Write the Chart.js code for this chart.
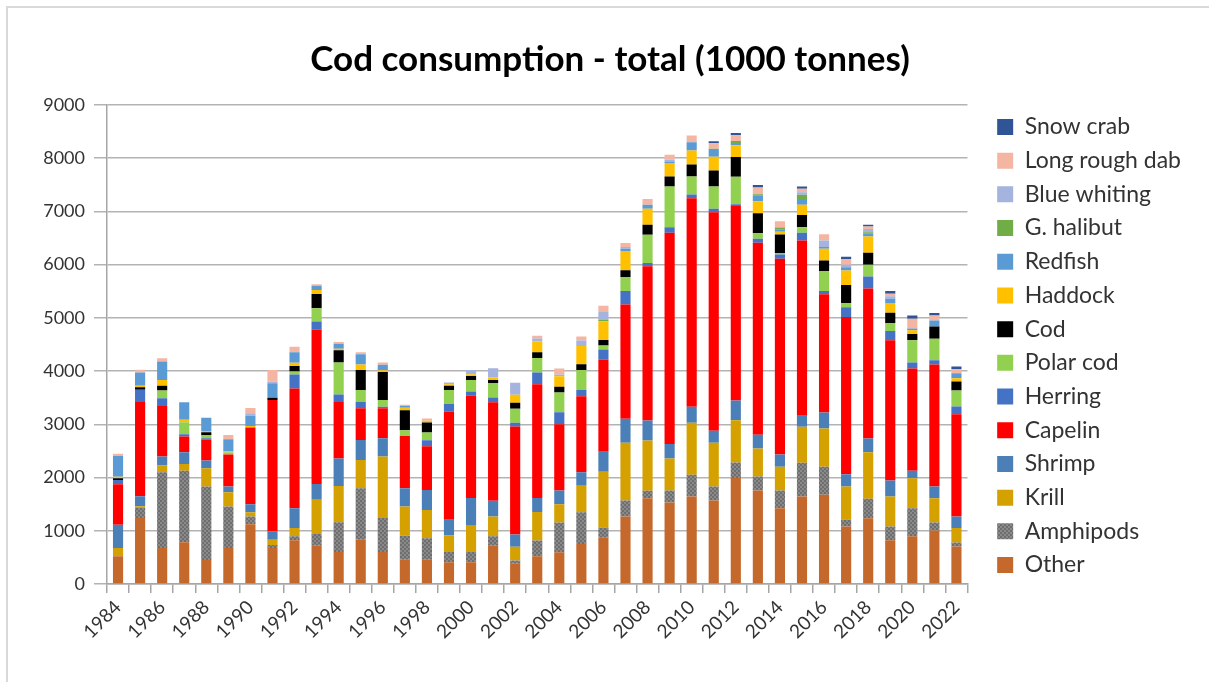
<!DOCTYPE html>
<html>
<head>
<meta charset="utf-8">
<script src="https://cdn.jsdelivr.net/npm/chart.js@4.4.0/dist/chart.umd.min.js"></script>
<style>
  html, body { margin: 0; padding: 0; background: #fff; }
  #frame { position: absolute; left: 6px; top: 6px; width: 1220px; height: 700px; border: 2px solid #d9d9d9; }
  #wrap { position: absolute; left: 0; top: 0; width: 1209px; height: 682px; }
</style>
</head>
<body>
<div id="frame"></div>
<div id="wrap"><canvas id="chart"></canvas></div>
<script>
// Cod consumption by prey, 1000 tonnes

const years = ["1984","1985","1986","1987","1988","1989","1990","1991","1992","1993",
  "1994","1995","1996","1997","1998","1999","2000","2001","2002","2003",
  "2004","2005","2006","2007","2008","2009","2010","2011","2012","2013",
  "2014","2015","2016","2017","2018","2019","2020","2021","2022"];

const other = [520,1240,675,785,450,675,1125,675,820,720,600,830,600,455,455,410,410,720,380,520,
  595,750,870,1270,1610,1530,1645,1570,1990,1755,1425,1645,1675,1080,1235,820,895,1005,705];
const amphipods = [0,190,1425,1345,1380,780,145,60,75,220,560,970,640,450,405,190,190,175,60,295,
  560,600,190,300,140,225,410,260,295,265,330,635,530,125,365,260,530,150,75];
const krill = [155,30,125,125,345,270,80,95,155,645,680,530,1155,550,530,310,495,375,260,540,
  345,495,1050,1085,945,605,975,825,790,525,450,675,715,625,875,565,560,455,270];
const shrimp = [440,190,170,220,145,105,150,155,375,295,520,375,345,345,375,295,520,295,230,260,
  255,255,375,450,375,270,300,225,375,260,230,220,300,230,260,300,145,220,220];
const capelin = [760,1770,950,295,390,605,1440,2470,2250,2895,1060,595,560,980,825,2030,1920,1850,2030,2140,
  1245,1430,1730,2145,2900,3970,3920,4105,3650,3605,3675,3280,2225,2955,2815,2635,1920,2295,1920];
const herring = [80,230,145,45,30,0,0,0,260,155,140,125,30,0,110,145,80,90,70,220,
  225,115,190,255,60,105,70,65,35,75,80,145,60,185,230,175,110,80,145];
const polarCod = [0,0,145,225,60,40,0,0,60,250,600,220,125,110,145,265,220,270,265,270,
  375,375,75,265,530,765,335,420,515,105,30,105,375,75,220,150,420,405,300];
const cod = [30,45,90,0,50,0,0,45,100,270,230,375,530,375,190,80,75,60,110,110,
  105,110,105,125,190,185,225,300,375,375,345,230,200,345,225,190,115,230,170];
const haddock = [30,30,110,45,25,15,30,0,60,75,30,105,30,45,30,30,30,45,150,200,
  200,340,350,360,300,255,265,260,220,225,55,190,220,270,305,185,75,0,60];
const redfish = [390,250,345,330,250,230,190,270,200,80,95,190,105,35,0,0,0,0,0,0,
  0,0,0,45,75,30,155,125,40,105,35,110,30,60,50,80,30,110,95];
const gHalibut = [0,0,0,0,0,0,0,0,0,0,0,0,0,0,0,0,0,0,0,0,
  0,0,25,0,0,0,0,25,40,30,45,80,0,0,30,0,0,0,0];
const blueWhiting = [0,0,0,0,0,0,50,30,0,0,0,0,0,0,0,30,80,175,225,60,
  30,105,150,30,0,30,0,0,0,0,0,45,125,50,60,45,0,0,0];
const longRoughDab = [40,50,60,0,0,80,95,220,105,25,30,40,40,25,45,0,0,0,0,50,
  115,75,120,75,110,95,125,100,105,125,115,65,115,105,45,50,185,95,80];
const snowCrab = [0,0,0,0,0,0,0,0,0,0,0,0,0,0,0,0,0,0,0,0,
  0,0,0,0,0,0,0,40,45,45,0,45,0,45,35,50,60,45,45];

// speckled gray fill like the original amphipods series
function speckle() {
  const c = document.createElement("canvas");
  c.width = 4; c.height = 4;
  const g = c.getContext("2d");
  g.fillStyle = "#8a8a8a";
  g.fillRect(0, 0, 4, 4);
  g.fillStyle = "#6e6e6e";
  g.fillRect(0, 0, 2, 2);
  g.fillRect(2, 2, 2, 2);
  return g.createPattern(c, "repeat");
}

const series = [
  ["Other", other, "#c5682b"],
  ["Amphipods", amphipods, speckle()],
  ["Krill", krill, "#d4a100"],
  ["Shrimp", shrimp, "#4a7fb8"],
  ["Capelin", capelin, "#ff0000"],
  ["Herring", herring, "#4472c4"],
  ["Polar cod", polarCod, "#92d050"],
  ["Cod", cod, "#000000"],
  ["Haddock", haddock, "#ffc000"],
  ["Redfish", redfish, "#5b9bd5"],
  ["G. halibut", gHalibut, "#70ad47"],
  ["Blue whiting", blueWhiting, "#a5b3df"],
  ["Long rough dab", longRoughDab, "#f4b6a2"],
  ["Snow crab", snowCrab, "#2f5597"]
];

const font = "Lato, 'Carlito', 'Liberation Sans', sans-serif";

new Chart(document.getElementById("chart"), {
  type: "bar",
  data: {
    labels: years,
    datasets: series.map(s => ({
      label: s[0],
      data: s[1],
      backgroundColor: s[2],
      borderWidth: 0,
      barPercentage: 0.46,
      categoryPercentage: 1.0
    }))
  },
  options: {
    responsive: true,
    maintainAspectRatio: false,
    animation: false,
    layout: { padding: { left: 29, right: 18, top: 10, bottom: 0 } },
    plugins: {
      title: {
        display: true,
        text: "Cod consumption - total (1000 tonnes)",
        color: "#000",
        font: { family: font, size: 35, weight: "bold" },
        padding: { top: 29, bottom: 24 }
      },
      legend: {
        position: "right",
        reverse: true,
        maxWidth: 400,
        labels: {
          boxWidth: 16,
          boxHeight: 16,
          padding: 10.7,
          color: "#333",
          font: { family: font, size: 23 }
        }
      },
      tooltip: { enabled: false }
    },
    scales: {
      x: {
        stacked: true,
        afterFit: s => { s.height = 98; },
        grid: { drawOnChartArea: false, color: "#a6a6a6", tickLength: 9, lineWidth: 1.5 },
        border: { color: "#a6a6a6", width: 1.5 },
        ticks: {
          autoSkip: false,
          maxRotation: 45,
          minRotation: 45,
          color: "#333",
          font: { family: font, size: 19 },
          callback: function (v, i) { return i % 2 === 0 ? this.getLabelForValue(v) : ""; }
        }
      },
      y: {
        stacked: true,
        min: 0,
        max: 9000,
        afterFit: s => { s.width = 78; },
        grid: { color: "#b3b3b3", lineWidth: 1.5, tickLength: 13 },
        border: { color: "#a6a6a6", width: 1.5 },
        ticks: {
          stepSize: 1000,
          color: "#333",
          padding: 9,
          font: { family: font, size: 18 },
          callback: v => String(v)
        }
      },
      // empty right-hand axis, only keeps a gap between the plot and the legend
      gap: {
        type: "linear",
        position: "right",
        afterFit: s => { s.width = 19; },
        grid: { display: false },
        border: { display: false },
        ticks: { display: false }
      }
    }
  }
});
</script>
</body>
</html>
